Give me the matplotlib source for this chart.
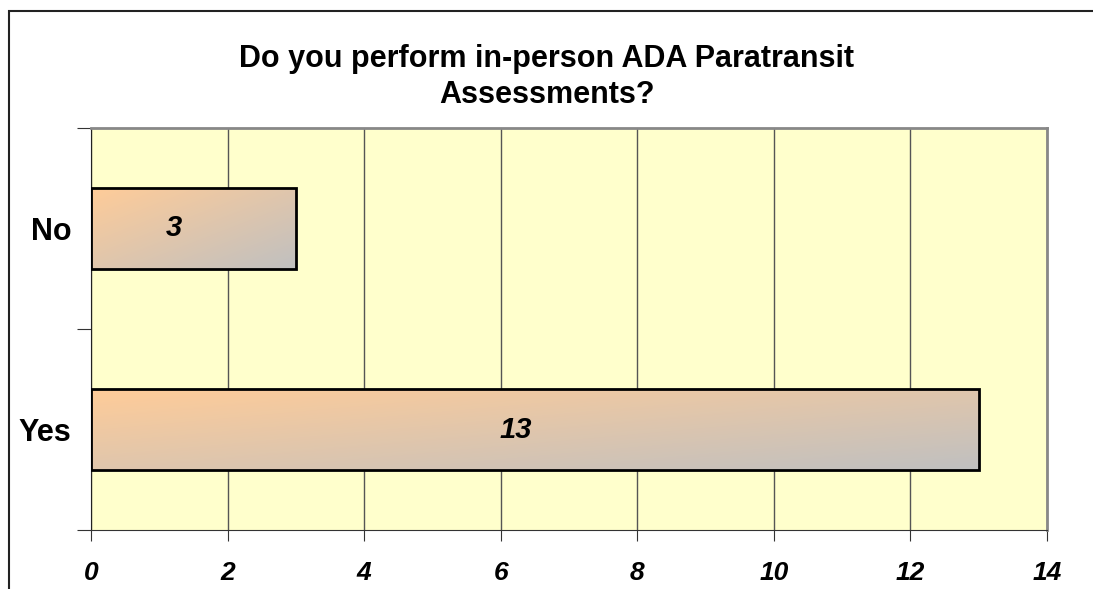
import matplotlib.pyplot as plt
import numpy as np
from matplotlib.colors import LinearSegmentedColormap
from matplotlib.patches import Rectangle

categories = ['Yes', 'No']
counts = [13, 3]
x_ticks = [0, 2, 4, 6, 8, 10, 12, 14]
title = 'Do you perform in-person ADA Paratransit\nAssessments?'

W, H = 1093, 589
fig = plt.figure(figsize=(W / 100, H / 100), dpi=100)
plt.rcParams['font.family'] = ['Liberation Sans', 'DejaVu Sans']

# outer chart border (runs off the right and bottom edges)
fig.patches.append(Rectangle((8.5 / W, -0.1), 1.2, (H - 10.5) / H + 0.1,
                             transform=fig.transFigure, fill=False,
                             edgecolor='#222222', linewidth=1.5))

ax = fig.add_axes([91 / W, (H - 530) / H, 956 / W, 402 / H])
ax.set_facecolor('#FFFFCC')

ax.set_xticks(x_ticks)
ax.set_xticklabels([str(t) for t in x_ticks], fontsize=19, fontweight='bold',
                   fontstyle='italic')
ax.grid(axis='x', color='#555555', linewidth=1)
ax.set_axisbelow(True)

ax.set_yticks([-0.5, 0.5, 1.5])
ax.set_yticklabels([])
ax.set_yticks([0, 1], minor=True)
ax.set_yticklabels(categories, minor=True, fontsize=22, fontweight='bold')
ax.tick_params(axis='y', which='minor', length=0, pad=14)
ax.tick_params(axis='y', which='major', length=10, color='#333333')
ax.tick_params(axis='x', length=8, pad=14, color='#333333')

for side in ['top', 'right']:
    ax.spines[side].set_color('#888888')
    ax.spines[side].set_linewidth(2)
ax.spines['left'].set_color('#222222')
ax.spines['bottom'].set_color('#333333')

cmap = LinearSegmentedColormap.from_list('grad', ['#FFCC99', '#C0C0C0'])
u, v = np.meshgrid(np.linspace(0, 1, 200), np.linspace(0, 1, 60))
grad = (u + v) / 2

bars = ax.barh(range(len(categories)), counts, height=0.4,
               facecolor='none', edgecolor='black', linewidth=2, zorder=3)
for bar, val in zip(bars, counts):
    x0, y0 = bar.get_x(), bar.get_y()
    w, h = bar.get_width(), bar.get_height()
    ax.imshow(grad, cmap=cmap, extent=[x0, x0 + w, y0, y0 + h],
              origin='upper', aspect='auto', zorder=2, interpolation='bilinear')
    ax.annotate(str(val), (x0 + w / 2, y0 + h / 2), xytext=(-14, 0),
                textcoords='offset points', ha='center', va='center',
                fontsize=21, fontweight='bold', fontstyle='italic', zorder=4)
ax.set_xlim(0, 14)
ax.set_ylim(-0.5, 1.5)

fig.text(0.5, 1 - 77 / H, title, ha='center', va='center', fontsize=22,
         fontweight='bold', linespacing=1.27)

fig.savefig('out.png', dpi=100)
